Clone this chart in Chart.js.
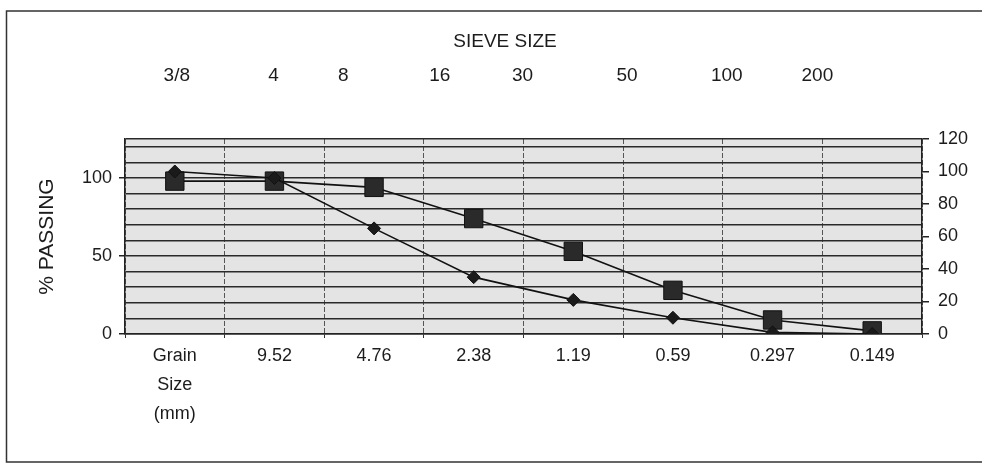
<!DOCTYPE html>
<html>
<head>
<meta charset="utf-8">
<script src="https://cdn.jsdelivr.net/npm/chart.js@4.4.0/dist/chart.umd.min.js"></script>
<style>
html,body{margin:0;padding:0;background:#fff;}
#wrap{position:relative;width:983px;height:465px;}
</style>
</head>
<body>
<div id="wrap"><canvas id="c" width="983" height="465"></canvas></div>
<script>
// ---- data ----
const grainSizes = [['Grain', 'Size', '(mm)'], '9.52', '4.76', '2.38', '1.19', '0.59', '0.297', '0.149'];
const sieveSizes = ['3/8', '4', '8', '16', '30', '50', '100', '200'];
const passingDiamond = [100, 96, 65, 35, 21, 10, 1, 0];   // right axis
const passingSquare  = [98, 98, 94, 74, 53, 28, 9, 2];    // left axis
const leftAxisLabels  = [0, 50, 100];
const leftGridValues  = [0, 10, 20, 30, 40, 50, 60, 70, 80, 90, 100, 110, 120, 125];
const rightAxisLabels = [0, 20, 40, 60, 80, 100, 120];

const FONT = "'Liberation Sans', Arial, sans-serif";
const INK = '#1c1c1c';

const framePlugin = {
  id: 'frame',
  beforeDraw(chart) {
    const {ctx, chartArea: a} = chart;
    ctx.save();
    ctx.fillStyle = '#e4e4e4';
    ctx.fillRect(a.left, a.top, a.right - a.left, a.bottom - a.top);
    // outer chart border
    ctx.strokeStyle = '#333';
    ctx.lineWidth = 1.5;
    ctx.beginPath();
    ctx.moveTo(982, 11); ctx.lineTo(6.5, 11); ctx.lineTo(6.5, 462); ctx.lineTo(982, 462);
    ctx.stroke();
    ctx.restore();
  },
  afterDraw(chart) {
    const {ctx} = chart;
    const xs = chart.scales.x;
    const step = xs.getPixelForValue(1) - xs.getPixelForValue(0);
    const offs = [0.02, 0.99, 1.69, 2.66, 3.49, 4.54, 5.54, 6.45];
    ctx.save();
    ctx.fillStyle = INK;
    ctx.textAlign = 'center';
    ctx.textBaseline = 'middle';
    ctx.font = '19px ' + FONT;
    ctx.fillText('SIEVE SIZE', 505, 42);
    sieveSizes.forEach((s, i) => {
      ctx.fillText(s, xs.getPixelForValue(0) + offs[i] * step, 76);
    });
    ctx.restore();
  }
};

new Chart(document.getElementById('c'), {
  type: 'line',
  data: {
    labels: grainSizes,
    datasets: [
      {
        data: passingDiamond,
        yAxisID: 'y2',
        borderColor: '#111',
        borderWidth: 1.6,
        pointStyle: 'rectRot',
        pointRadius: 6.5,
        pointBackgroundColor: '#1a1a1a',
        pointBorderColor: '#111',
        pointBorderWidth: 1,
        tension: 0,
        fill: false
      },
      {
        data: passingSquare,
        yAxisID: 'y',
        borderColor: '#111',
        borderWidth: 1.6,
        pointStyle: 'rect',
        pointRadius: 13,
        pointBackgroundColor: '#2a2a2a',
        pointBorderColor: '#111',
        pointBorderWidth: 1,
        tension: 0,
        fill: false
      }
    ]
  },
  options: {
    responsive: false,
    animation: false,
    layout: {padding: {top: 139, left: 0, right: 0, bottom: 0}},
    plugins: {legend: {display: false}, tooltip: {enabled: false}},
    scales: {
      x: {
        type: 'category',
        offset: true,
        grid: {offset: true, color: '#555', lineWidth: 1, tickLength: 4, tickColor: '#333'},
        border: {display: true, color: '#222', width: 1.5, dash: [5, 2]},
        ticks: {font: {family: FONT, size: 18, lineHeight: 1.6}, color: INK, padding: 4, maxRotation: 0, autoSkip: false},
        afterFit: s => { s.height = 131; }
      },
      y: {
        position: 'left',
        min: 0, max: 125,
        afterBuildTicks: s => { s.ticks = leftGridValues.map(v => ({value: v})); },
        ticks: {
          autoSkip: false,
          font: {family: FONT, size: 18}, color: INK, padding: 7,
          callback: v => leftAxisLabels.includes(v) ? String(v) : ''
        },
        grid: {
          color: '#2a2a2a', lineWidth: 1.5, tickLength: 6,
          tickColor: c => (c.tick && leftAxisLabels.includes(c.tick.value)) ? '#222' : 'rgba(0,0,0,0)'
        },
        border: {display: true, color: '#222', width: 1.5},
        title: {display: true, text: '% PASSING', color: INK, font: {family: FONT, size: 21}, padding: {top: 35, bottom: 0}},
        afterFit: s => { s.width = 125; }
      },
      y2: {
        position: 'right',
        min: 0, max: 120,
        afterBuildTicks: s => { s.ticks = rightAxisLabels.map(v => ({value: v})); },
        ticks: {autoSkip: false, font: {family: FONT, size: 18}, color: INK, padding: 9},
        grid: {drawOnChartArea: false, tickLength: 7, tickColor: '#222', lineWidth: 1.5},
        border: {display: true, color: '#222', width: 1.5},
        afterFit: s => { s.width = 61; }
      }
    }
  },
  plugins: [framePlugin]
});
</script>
</body>
</html>
